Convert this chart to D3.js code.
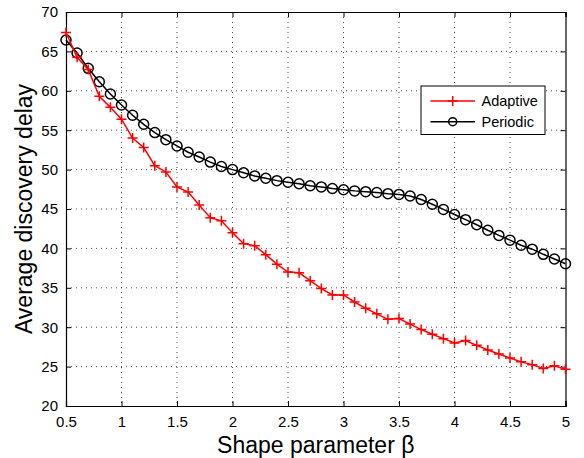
<!DOCTYPE html>
<html>
<head>
<meta charset="utf-8">
<script src="https://cdn.jsdelivr.net/npm/d3@7"></script>
<style>
  body { margin: 0; background: #fff; }
  svg { display: block; font-family: "Liberation Sans", Arial, sans-serif; }
</style>
</head>
<body>
<div id="chart-area"></div>
<script>
var betas = [0.5, 0.6, 0.7, 0.8, 0.9, 1.0, 1.1, 1.2, 1.3, 1.4, 1.5, 1.6, 1.7, 1.8, 1.9,
             2.0, 2.1, 2.2, 2.3, 2.4, 2.5, 2.6, 2.7, 2.8, 2.9, 3.0, 3.1, 3.2, 3.3, 3.4,
             3.5, 3.6, 3.7, 3.8, 3.9, 4.0, 4.1, 4.2, 4.3, 4.4, 4.5, 4.6, 4.7, 4.8, 4.9, 5.0];

var adaptive = [67.4, 64.25, 62.7, 59.3, 57.9, 56.4, 54.0, 52.8, 50.5, 49.7, 47.8, 47.15, 45.5, 43.9, 43.5,
                42.0, 40.6, 40.35, 39.2, 38.0, 37.0, 36.9, 35.9, 34.9, 34.1, 34.1, 33.2, 32.4, 31.7, 31.0,
                31.1, 30.4, 29.7, 29.1, 28.55, 28.0, 28.3, 27.7, 27.1, 26.6, 26.1, 25.6, 25.25, 24.75, 25.1, 24.65];

var periodic = [66.45, 64.8, 62.85, 61.15, 59.6, 58.2, 56.9, 55.75, 54.7, 53.8, 53.0, 52.2, 51.6, 50.95, 50.4,
                50.0, 49.6, 49.2, 48.9, 48.6, 48.4, 48.2, 47.95, 47.8, 47.6, 47.45, 47.3, 47.2, 47.1, 46.95,
                46.85, 46.65, 46.2, 45.6, 44.95, 44.3, 43.65, 43.0, 42.3, 41.65, 41.05, 40.4, 39.9, 39.25, 38.65, 38.05];

var xTicks = [0.5, 1, 1.5, 2, 2.5, 3, 3.5, 4, 4.5, 5];
var yTicks = [20, 25, 30, 35, 40, 45, 50, 55, 60, 65, 70];

var seriesNames = ["Adaptive", "Periodic"];
var seriesColors = ["#ff0000", "#000000"];

var margin = { left: 66, right: 18.5, top: 12, bottom: 52 };
var width = 584 - margin.left - margin.right,
    height = 458 - margin.top - margin.bottom;

var svg = d3.select("#chart-area")
    .append("svg")
        .attr("width", 584)
        .attr("height", 458);

var g = svg.append("g")
    .attr("transform", "translate(" + margin.left + ", " + margin.top + ")");

var xScale = d3.scaleLinear().domain([0.5, 5]).range([0, width]);
var yScale = d3.scaleLinear().domain([20, 70]).range([height, 0]);

// dotted grid
g.append("g")
    .selectAll("line")
    .data(xTicks.slice(1, -1))
    .enter().append("line")
        .attr("x1", function(d) { return xScale(d); })
        .attr("x2", function(d) { return xScale(d); })
        .attr("y1", 0)
        .attr("y2", height)
        .attr("stroke", "#000")
        .attr("stroke-width", 1)
        .attr("stroke-dasharray", "1,4")
        .attr("opacity", 0.7);

g.append("g")
    .selectAll("line")
    .data(yTicks.slice(1, -1))
    .enter().append("line")
        .attr("x1", 0)
        .attr("x2", width)
        .attr("y1", function(d) { return yScale(d); })
        .attr("y2", function(d) { return yScale(d); })
        .attr("stroke", "#000")
        .attr("stroke-width", 1)
        .attr("stroke-dasharray", "1,4")
        .attr("opacity", 0.7);

// axes, ticks pointing inward like matlab
var xAxisCall = d3.axisBottom(xScale).tickValues(xTicks).tickSize(-5).tickPadding(10)
    .tickFormat(function(d) { return d; });
var yAxisCall = d3.axisLeft(yScale).tickValues(yTicks).tickSize(-5).tickPadding(8)
    .tickFormat(function(d) { return d; });

g.append("g")
    .attr("class", "x axis")
    .attr("transform", "translate(0, " + height + ")")
    .call(xAxisCall);

g.append("g")
    .attr("class", "y axis")
    .call(yAxisCall);

g.append("g")
    .call(d3.axisTop(xScale).tickValues(xTicks).tickSize(-5).tickFormat(""));

g.append("g")
    .attr("transform", "translate(" + width + ", 0)")
    .call(d3.axisRight(yScale).tickValues(yTicks).tickSize(-5).tickFormat(""));

g.selectAll(".domain").attr("stroke", "#000").attr("stroke-width", 1.2);
g.selectAll(".tick line").attr("stroke", "#000");
g.selectAll(".tick text").attr("font-size", "15px").attr("fill", "#000")
    .attr("font-family", "'Liberation Sans', Arial, sans-serif");

// axis labels
g.append("text")
    .attr("x", width / 2)
    .attr("y", height + 47)
    .attr("font-size", "23px")
    .attr("text-anchor", "middle")
    .text("Shape parameter β");

g.append("text")
    .attr("x", -(height / 2))
    .attr("y", -34)
    .attr("font-size", "23px")
    .attr("text-anchor", "middle")
    .attr("transform", "rotate(-90)")
    .text("Average discovery delay");

var line = d3.line()
    .x(function(d) { return xScale(d[0]); })
    .y(function(d) { return yScale(d[1]); });

var adaptiveData = betas.map(function(b, i) { return [b, adaptive[i]]; });
var periodicData = betas.map(function(b, i) { return [b, periodic[i]]; });

g.append("path")
    .attr("d", line(periodicData))
    .attr("fill", "none")
    .attr("stroke", seriesColors[1])
    .attr("stroke-width", 1.5);

g.selectAll("circle.periodic")
    .data(periodicData)
    .enter().append("circle")
        .attr("class", "periodic")
        .attr("cx", function(d) { return xScale(d[0]); })
        .attr("cy", function(d) { return yScale(d[1]); })
        .attr("r", 5)
        .attr("fill", "none")
        .attr("stroke", seriesColors[1])
        .attr("stroke-width", 1.5);

g.append("path")
    .attr("d", line(adaptiveData))
    .attr("fill", "none")
    .attr("stroke", seriesColors[0])
    .attr("stroke-width", 1.5);

g.selectAll("path.adaptive")
    .data(adaptiveData)
    .enter().append("path")
        .attr("class", "adaptive")
        .attr("d", "M-5,0H5M0,-5V5")
        .attr("transform", function(d) {
            return "translate(" + xScale(d[0]) + "," + yScale(d[1]) + ")";
        })
        .attr("stroke", seriesColors[0])
        .attr("stroke-width", 1.5)
        .attr("fill", "none");

// legend
var legend = svg.append("g").attr("transform", "translate(421, 86)");
legend.append("rect")
    .attr("width", 124)
    .attr("height", 48.5)
    .attr("fill", "#fff")
    .attr("stroke", "#000")
    .attr("stroke-width", 1);

seriesNames.forEach(function(name, i) {
    var yy = 15 + i * 20.7;
    legend.append("line")
        .attr("x1", 9.5).attr("x2", 54)
        .attr("y1", yy).attr("y2", yy)
        .attr("stroke", seriesColors[i])
        .attr("stroke-width", 1.5);
    if (i === 0) {
        legend.append("path")
            .attr("d", "M-5,0H5M0,-5V5")
            .attr("transform", "translate(31.7," + yy + ")")
            .attr("stroke", seriesColors[i])
            .attr("stroke-width", 1.5);
    } else {
        legend.append("circle")
            .attr("cx", 31.7).attr("cy", yy).attr("r", 4)
            .attr("fill", "none")
            .attr("stroke", seriesColors[i])
            .attr("stroke-width", 1.5);
    }
    legend.append("text")
        .attr("x", 60.5)
        .attr("y", yy + 5)
        .attr("font-size", "14.5px")
        .text(name);
});
</script>
</body>
</html>
